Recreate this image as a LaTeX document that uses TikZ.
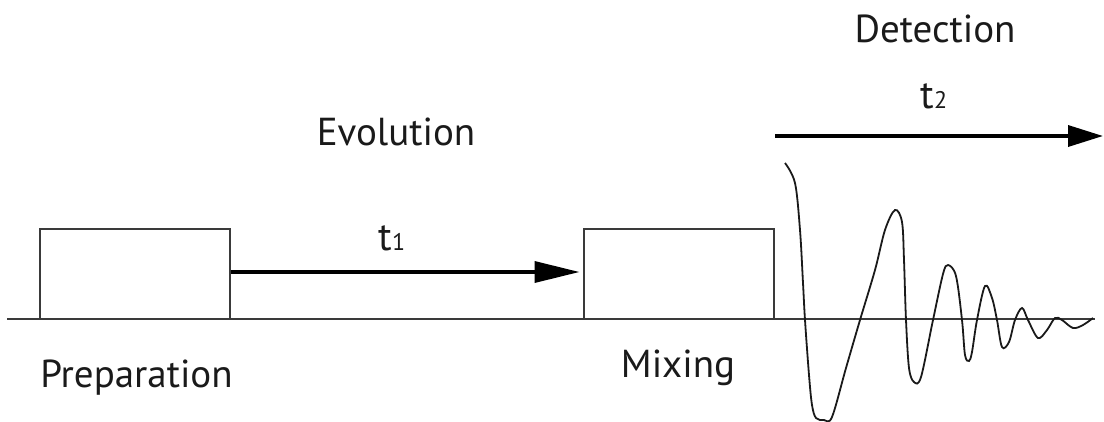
\documentclass[tikz,border=0pt]{standalone}
\usepackage{fontspec}
\setmainfont{PT Sans}
\usetikzlibrary{arrows.meta}
\definecolor{ink}{HTML}{1A1A1A}
\definecolor{boxline}{HTML}{3A3A3A}
\tikzset{
  pulsebox/.style={draw=boxline, line width=2pt, minimum width=190pt, minimum height=90pt, inner sep=0pt},
  timearrow/.style={line width=3.5pt, black},
  lbl/.style={text=ink, font=\fontsize{39}{42}\selectfont, inner sep=0pt, anchor=base},
  tlbl/.style={text=ink, font=\fontsize{40}{42}\selectfont, inner sep=0pt, anchor=base},
  axis/.style={draw=boxline, line width=2pt},
  fid/.style={draw=ink, line width=1.8pt}
}
\newcommand{\subsc}[1]{{\fontsize{24}{24}\selectfont #1}}
\begin{document}
\begin{tikzpicture}[x=1pt,y=-1pt]
\useasboundingbox (0,0) rectangle (1104,421);
% baseline
\coordinate (axL) at (7,319);
\coordinate (axR) at (1095,319);
\draw[axis] (axL) -- (axR);
% boxes
\node[pulsebox] (prep) at (135,274) {};
\node[pulsebox] (mix) at (678.5,274) {};
% t1 arrow
\draw[timearrow, -{Triangle[length=45pt,width=21pt]}, shorten >=3pt]
  ([yshift=2pt]prep.east) -- ([yshift=2pt]mix.west);
% t2 arrow
\coordinate (t2s) at (775,136);
\coordinate (t2e) at (1103,136);
\draw[timearrow, -{Triangle[length=35pt,width=21pt]}] (t2s) -- (t2e);
% labels
\node[lbl] (evo) at (396,145) {Evolution};
\node[lbl] (prepl) at (136.5,387) {Preparation};
\node[lbl] (mixl) at (678,377) {Mixing};
\node[lbl] (det) at (935,42) {Detection};
\node[tlbl] (t1) at (392,250) {t\subsc{1}};
\node[tlbl] (t2) at (934,108) {t\subsc{2}};
% FID
\draw[fid] plot[smooth, tension=0.55] coordinates {
 (785,163) (795,183) (800,230) (803,283) (805,320) (809,375) (812,405) (816,418)
 (824,420) (832,417) (846,368) (860,320) (875,270) (885,230) (895,210)
 (902,222) (904,260) (906,320) (909,368) (914,382) (921,377) (933,320)
 (943,274) (948,265) (956,276) (962,320) (965,355) (969,361) (972,352) (977,320)
 (985,286) (992,298) (997,320) (1002,347) (1009,342) (1015,320)
 (1022,308) (1028,320) (1038,338) (1047,330) (1055,318) (1062,320)
 (1073,328) (1083,325) (1093,318)};
\end{tikzpicture}
\end{document}
